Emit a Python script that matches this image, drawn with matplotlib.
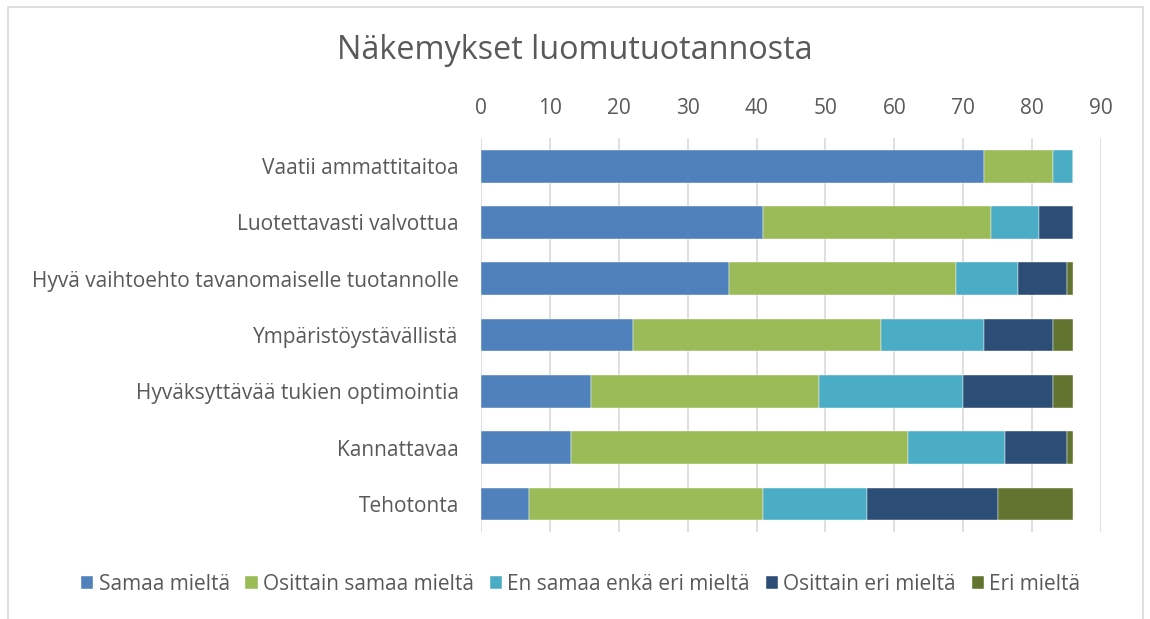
import matplotlib
matplotlib.use("Agg")
import matplotlib.pyplot as plt
import matplotlib.patches as patches
import numpy as np

plt.rcParams['font.family'] = ['Open Sans', 'DejaVu Sans']

# data
categories = ["Vaatii ammattitaitoa",
              "Luotettavasti valvottua",
              "Hyvä vaihtoehto tavanomaiselle tuotannolle",
              "Ympäristöystävällistä",
              "Hyväksyttävää tukien optimointia",
              "Kannattavaa",
              "Tehotonta"]
series_names = ["Samaa mieltä", "Osittain samaa mieltä", "En samaa enkä eri mieltä",
                "Osittain eri mieltä", "Eri mieltä"]
samaa = [73, 41, 36, 22, 16, 13, 7]
osittain_samaa = [10, 33, 33, 36, 33, 49, 34]
neutraali = [3, 7, 9, 15, 21, 14, 15]
osittain_eri = [0, 5, 7, 10, 13, 9, 19]
eri = [0, 0, 1, 3, 3, 1, 11]
x_ticks = [0, 10, 20, 30, 40, 50, 60, 70, 80, 90]

colors = ["#4F81BD", "#9BBB59", "#4BACC6", "#2C4D75", "#627530"]
text_col = "#595959"

fig = plt.figure(figsize=(11.5, 6.19), dpi=100)
ax = fig.add_axes([0.4183, 0.1405, 0.5391, 0.6365])

y = np.arange(len(categories))
left = np.zeros(len(categories))
for name, vals, col in zip(series_names,
                           [samaa, osittain_samaa, neutraali, osittain_eri, eri],
                           colors):
    vals = np.array(vals)
    ax.barh(y, vals, left=left, height=0.58, color=col, label=name,
            edgecolor="white", linewidth=0.3, zorder=3)
    left += vals

ax.set_xlim(0, 90)
ax.set_ylim(len(categories) - 0.5, -0.5)
ax.set_xticks(x_ticks)
ax.set_yticks(y)
ax.set_yticklabels(categories)
ax.xaxis.tick_top()
ax.tick_params(axis="x", length=0, pad=14, labelsize=15, labelcolor=text_col)
ax.tick_params(axis="y", length=0, pad=16, labelsize=15, labelcolor=text_col)
ax.grid(axis="x", color="#D9D9D9", linewidth=1.2, zorder=0)
for s in ax.spines.values():
    s.set_visible(False)

fig.text(0.5, 0.919, "Näkemykset luomutuotannosta", ha="center", va="center",
         fontsize=23.3, color=text_col)

fig.legend(loc="center", bbox_to_anchor=(0.505, 0.0565), ncol=5, frameon=False,
           fontsize=15, labelcolor=text_col, handlelength=0.6, handleheight=0.6,
           handletextpad=0.25, columnspacing=0.75)

border = patches.Rectangle((8 / 1150, -0.1), 1135 / 1150, 1.1 - 7 / 619,
                           transform=fig.transFigure, fill=False,
                           edgecolor="#D9D9D9", linewidth=1.2)
fig.patches.append(border)

fig.savefig("out.png", dpi=100, facecolor="white")
